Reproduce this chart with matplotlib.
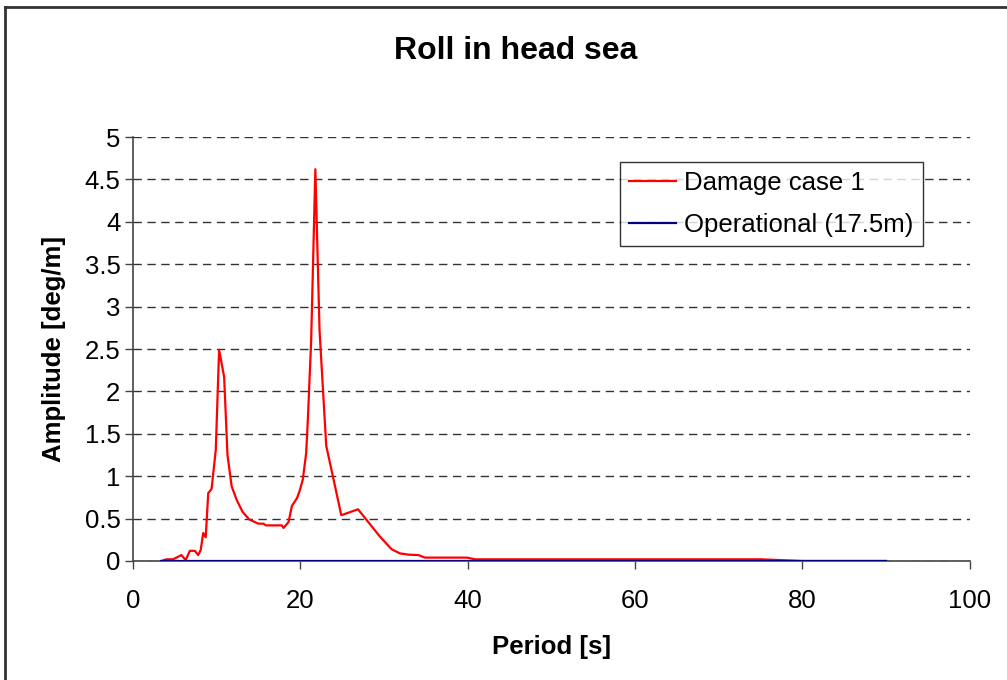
import matplotlib
matplotlib.use('Agg')
import matplotlib.pyplot as plt
from matplotlib.lines import Line2D

# values
period = [3.4, 4.0, 4.8, 5.8, 6.3, 6.8, 7.4, 7.8, 8.1, 8.4, 8.7, 9.0, 9.4, 9.9,
          10.3, 10.9, 11.3, 11.8, 12.4, 13.1, 13.9, 15.0, 15.6, 15.9, 17.8, 18.0,
          18.6, 19.0, 19.6, 19.9, 20.3, 20.7, 20.9, 21.3, 21.8, 22.3, 23.1, 24.9,
          26.9, 29.5, 30.9, 31.9, 32.9, 34.1, 34.9, 39.9, 40.9, 75.0, 80.0, 90.0]
damage = [0.0, 0.02, 0.02, 0.07, 0.01, 0.12, 0.12, 0.07, 0.13, 0.33, 0.28, 0.80,
          0.85, 1.31, 2.49, 2.17, 1.25, 0.88, 0.72, 0.58, 0.49, 0.44, 0.44, 0.42,
          0.42, 0.39, 0.46, 0.65, 0.74, 0.82, 0.96, 1.27, 1.66, 2.6, 4.62, 2.72,
          1.36, 0.54, 0.61, 0.29, 0.14, 0.09, 0.075, 0.07, 0.04, 0.04, 0.02, 0.02,
          0.0, 0.0]
oper_period = [3.4, 90.0]
operational = [0.0, 0.0]

x_ticks = [0, 20, 40, 60, 80, 100]
y_ticks = [0, 0.5, 1, 1.5, 2, 2.5, 3, 3.5, 4, 4.5, 5]

plt.rcParams['font.family'] = ['Liberation Sans', 'DejaVu Sans']

fig = plt.figure(figsize=(10.07, 6.8), dpi=100)
ax = fig.add_axes([0.132, 0.175, 0.831, 0.6235])

ax.plot(period, damage, color='#ff0000', lw=1.6, label='Damage case 1', zorder=3)
ax.plot(oper_period, operational, color='#000080', lw=1.6, label='Operational (17.5m)', zorder=4)

ax.set_xlim(0, 100)
ax.set_ylim(0, 5)
ax.set_xticks(x_ticks)
ax.set_yticks(y_ticks)
ax.set_yticklabels(['0', '0.5', '1', '1.5', '2', '2.5', '3', '3.5', '4', '4.5', '5'])
ax.tick_params(axis='both', labelsize=18.5, direction='out', length=6, width=1, color='#444444')
ax.tick_params(axis='x', pad=14)
ax.tick_params(axis='y', pad=3)

ax.yaxis.grid(True, linestyle=(0, (6, 4)), color='#333333', lw=1)
ax.set_axisbelow(True)
for s in ['top', 'right']:
    ax.spines[s].set_visible(False)
for s in ['left', 'bottom']:
    ax.spines[s].set_color('#444444')
    ax.spines[s].set_linewidth(1.2)

ax.set_xlabel('Period [s]', fontsize=18.5, fontweight='bold', labelpad=16)
ax.set_ylabel('Amplitude [deg/m]', fontsize=18.5, fontweight='bold', labelpad=13)
fig.text(0.512, 0.925, 'Roll in head sea', ha='center', va='center',
         fontsize=23, fontweight='bold')

leg = ax.legend(loc='upper left', bbox_to_anchor=(0.582, 0.942), fontsize=18.5,
                frameon=True, fancybox=False, shadow=False, handlelength=1.85,
                handletextpad=0.3, borderpad=0.35, labelspacing=0.72,
                borderaxespad=0)
leg.get_frame().set_edgecolor('black')
leg.get_frame().set_linewidth(1)

# outer frame of the chart (only top and left visible)
fig.add_artist(Line2D([0.005, 1.0], [0.99, 0.99], color='#333333', lw=2, transform=fig.transFigure))
fig.add_artist(Line2D([0.005, 0.005], [0.0, 0.99], color='#333333', lw=2, transform=fig.transFigure))

fig.savefig('out.png', dpi=100)
